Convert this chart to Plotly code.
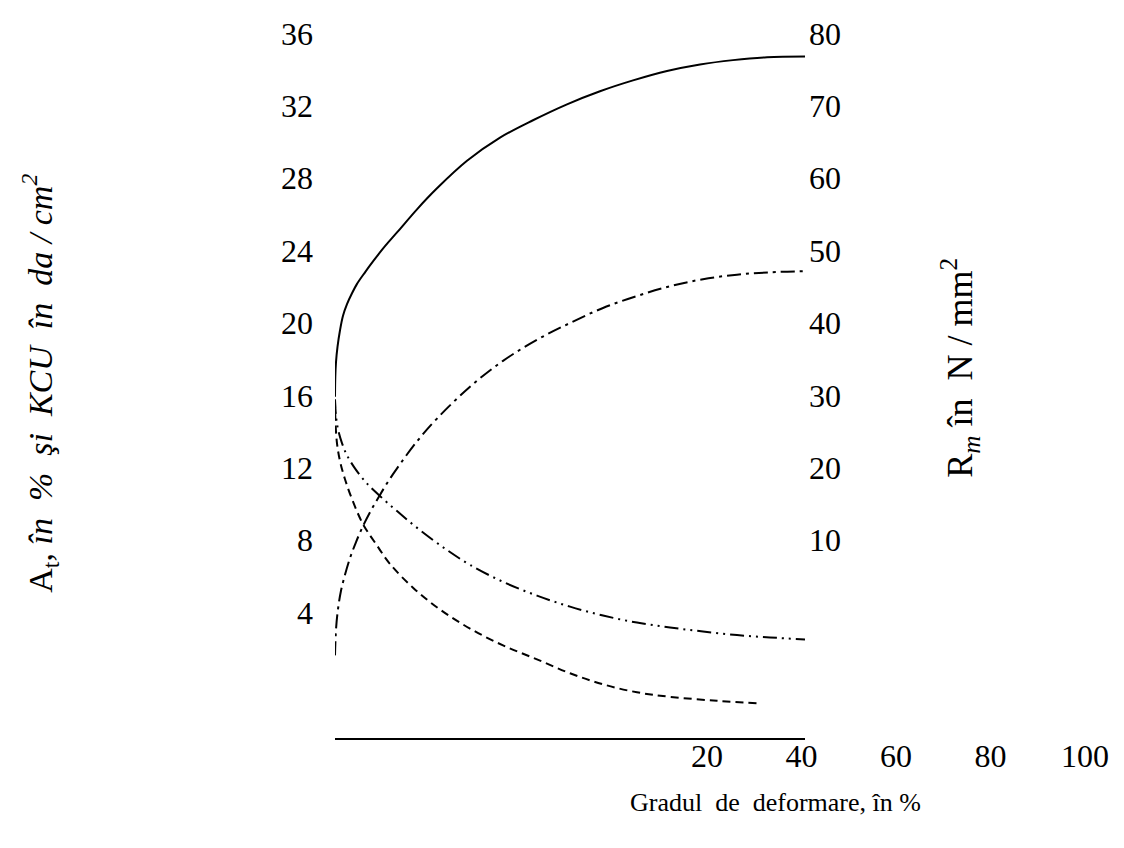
import plotly.graph_objects as go

# ---- data (x: degree of deformation, %) ----
# R_m (solid) on right axis, N/mm^2
rm_x = [0.0, 0.026, 0.085, 0.213, 0.426, 0.681, 1.021, 1.447, 1.872, 2.553, 3.234, 4.255,
        5.277, 6.979, 8.681, 11.234, 14.043, 16.851, 19.745, 22.553, 25.362, 28.255,
        31.064, 33.872, 36.766, 40.0]
rm_y = [29.8, 32.6, 34.6, 36.7, 39.0, 41.0, 42.6, 44.1, 45.4, 47.0, 48.5, 50.6,
        52.5, 55.7, 58.6, 62.4, 65.6, 68.0, 70.2, 72.0, 73.5, 74.8,
        75.7, 76.3, 76.7, 76.8]

# dash-dot rising curve (left axis)
dd_x = [0.0, 0.09, 0.26, 0.51, 0.85, 1.28, 1.79, 2.38, 2.98, 3.66, 4.43, 5.28, 6.98,
        8.68, 11.49, 14.30, 17.19, 20.0, 22.81, 25.70, 28.51, 31.32, 34.21, 37.02, 40.0]
dd_y = [1.64, 3.12, 4.22, 5.21, 6.09, 7.02, 7.90, 8.78, 9.55, 10.32, 11.15, 11.97, 13.46,
        14.72, 16.48, 17.91, 19.07, 20.00, 20.83, 21.49, 22.03, 22.42, 22.67, 22.80, 22.86]

# dash-dot-dot falling curve (left axis)
ddd_x = [0.0, 0.09, 0.26, 0.60, 1.02, 1.70, 2.55, 3.66, 5.28, 7.23, 9.53, 11.49, 14.30,
         17.19, 20.0, 22.81, 25.70, 28.51, 31.32, 34.21, 37.02, 40.0]
ddd_y = [15.77, 14.83, 14.12, 13.35, 12.69, 11.97, 11.26, 10.54, 9.61, 8.56, 7.46, 6.64,
         5.70, 4.94, 4.33, 3.84, 3.45, 3.18, 2.96, 2.76, 2.63, 2.52]

# dashed falling curve (left axis)
ds_x = [0.0, 0.04, 0.17, 0.43, 0.85, 1.45, 2.38, 3.49, 4.68, 6.64, 8.94, 11.49, 14.30,
        17.19, 20.0, 22.81, 25.70, 28.51, 32.51, 35.91]
ds_y = [15.77, 14.56, 13.35, 12.36, 11.37, 10.27, 8.89, 7.79, 6.69, 5.38, 4.17, 3.12,
        2.19, 1.42, 0.65, 0.04, -0.40, -0.65, -0.87, -1.00]

left_ticks = [4, 8, 12, 16, 20, 24, 28, 32, 36]
right_ticks = [10, 20, 30, 40, 50, 60, 70, 80]
bottom_ticks = [20, 40, 60, 80, 100]

# page body adds an 8 px margin; work in screen coordinates minus that offset
OFF = 8
W, H = 1124 - OFF, 848 - OFF
FONT = "Liberation Serif, Times New Roman, serif"
FS_TICK = 32
FS_LEFT = 34
FS_RIGHT = 36
FS_BOTTOM = 26


def sx(p):
    return p - OFF


def vy(p):
    # small vertical placement correction (screen px -> figure px)
    shift = 4.5 - (p - 30) * 0.00494
    return p - shift - OFF


common = dict(mode="lines", showlegend=False, hoverinfo="skip")

fig = go.Figure()
fig.add_trace(go.Scatter(x=rm_x, y=rm_y, xaxis="x", yaxis="y2",
                         line=dict(color="black", width=2, shape="spline", smoothing=1.0),
                         **common))
fig.add_trace(go.Scatter(x=dd_x, y=dd_y, xaxis="x", yaxis="y",
                         line=dict(color="black", width=2, shape="spline", smoothing=1.0,
                                   dash="14px,5px,3px,5px"),
                         **common))
fig.add_trace(go.Scatter(x=ddd_x, y=ddd_y, xaxis="x", yaxis="y",
                         line=dict(color="black", width=2, shape="spline", smoothing=1.0,
                                   dash="14px,5px,2px,5px,2px,5px"),
                         **common))
fig.add_trace(go.Scatter(x=ds_x, y=ds_y, xaxis="x", yaxis="y",
                         line=dict(color="black", width=2, shape="spline", smoothing=1.0,
                                   dash="8px,5px"),
                         **common))
# carrier for the tick-label axis
fig.add_trace(go.Scatter(x=bottom_ticks, y=[None] * len(bottom_ticks), xaxis="x2", yaxis="y",
                         **common))

# pixel geometry (reference screen coordinates)
px_left, px_right = 335, 805
px_top, px_bottom = 20, 738
y_per_unit = 18.1875
y_zero_px = 684.75
yl_lo = (y_zero_px - px_bottom) / y_per_unit
yl_hi = (y_zero_px - px_top) / y_per_unit
yr_lo = (yl_lo - 4) * 2.5
yr_hi = (yl_hi - 4) * 2.5

x2_slope = 4.725
x2_zero = 612.5
x2_lo = (px_left - x2_zero) / x2_slope
x2_hi = (1124 - x2_zero) / x2_slope

tickfont = dict(family=FONT, size=FS_TICK, color="black")
ydom = [(H - vy(px_bottom)) / H, (H - vy(px_top)) / H]

fig.update_layout(
    width=W, height=H, autosize=False,
    margin=dict(l=0, r=0, t=0, b=0),
    paper_bgcolor="white", plot_bgcolor="rgba(0,0,0,0)",
    font=dict(family=FONT, size=FS_TICK, color="black"),
    xaxis=dict(domain=[sx(px_left) / W, sx(px_right) / W], range=[0, 40], anchor="y",
               showline=True, linecolor="black", linewidth=2,
               showgrid=False, zeroline=False, showticklabels=False, ticks=""),
    xaxis2=dict(domain=[sx(px_left) / W, 1.0], range=[x2_lo, x2_hi],
                anchor="free", position=(H - vy(734)) / H,
                showline=False, showgrid=False, zeroline=False,
                tickvals=bottom_ticks, ticktext=[str(v) for v in bottom_ticks],
                tickfont=tickfont, ticks="", ticklabelstandoff=0,
                ticklabeloverflow="allow"),
    yaxis=dict(domain=ydom, range=[yl_lo, yl_hi],
               anchor="x", showline=False, showgrid=False, zeroline=False,
               tickvals=left_ticks, ticktext=[str(v) for v in left_ticks],
               tickfont=tickfont, ticks="", ticklabelstandoff=21,
               ticklabeloverflow="allow"),
    yaxis2=dict(domain=ydom, range=[yr_lo, yr_hi],
                anchor="x", overlaying="y", side="right",
                showline=False, showgrid=False, zeroline=False,
                tickvals=right_ticks, ticktext=[str(v) for v in right_ticks],
                tickfont=tickfont, ticks="", ticklabelstandoff=3,
                ticklabeloverflow="allow"),
    annotations=[
        dict(text="A<sub>t</sub>, <i>în\u00a0\u00a0%\u00a0\u00a0şi\u00a0\u00a0KCU\u00a0\u00a0în\u00a0\u00a0da\u00a0/\u00a0cm<sup>2</sup></i>",
             xref="paper", yref="paper", x=sx(40) / W, y=(H - vy(382)) / H,
             textangle=-90, showarrow=False, xanchor="center", yanchor="middle",
             font=dict(family=FONT, size=FS_LEFT, color="black")),
        dict(text="R<sub><i>m</i></sub> în\u00a0\u00a0N\u00a0/\u00a0mm<sup>2</sup>",
             xref="paper", yref="paper", x=sx(960) / W, y=(H - vy(366)) / H,
             textangle=-90, showarrow=False, xanchor="center", yanchor="middle",
             font=dict(family=FONT, size=FS_RIGHT, color="black")),
        dict(text="Gradul\u00a0\u00a0de\u00a0\u00a0deformare, în %",
             xref="paper", yref="paper", x=sx(775) / W, y=(H - vy(803)) / H,
             showarrow=False, xanchor="center", yanchor="middle",
             font=dict(family=FONT, size=FS_BOTTOM, color="black")),
    ],
)

fig.write_html("out.html")
